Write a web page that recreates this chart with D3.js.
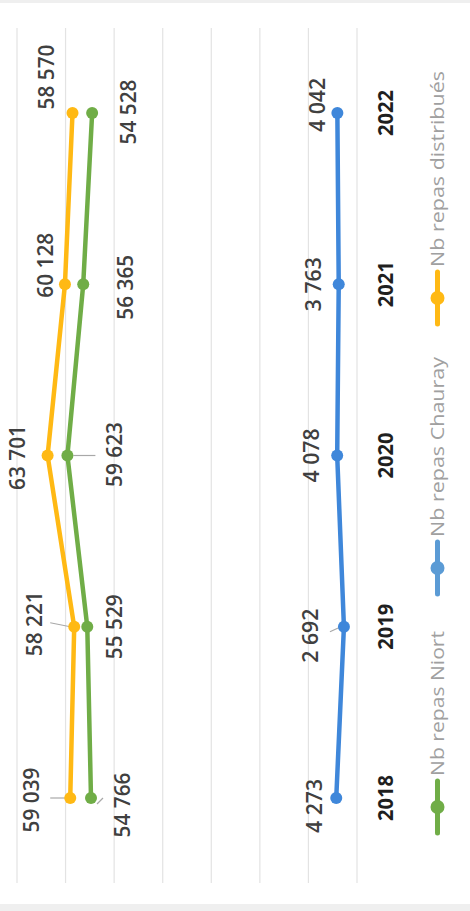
<!DOCTYPE html>
<html>
<head>
<meta charset="utf-8">
<script src="https://cdn.jsdelivr.net/npm/d3@7/dist/d3.min.js"></script>
<style>
  html, body { margin: 0; padding: 0; background: #efefef; }
  svg { display: block; }
  text { font-family: "Open Sans", "DejaVu Sans", sans-serif; }
</style>
</head>
<body>
<svg id="chart" width="470" height="911"></svg>
<script>
// ---- Data ----
const years = ["2018", "2019", "2020", "2021", "2022"];
const repasDistribues = [59039, 58221, 63701, 60128, 58570];
const repasNiort = [54766, 55529, 59623, 56365, 54528];
const repasChauray = [4273, 2692, 4078, 3763, 4042];
const seriesNames = ["Nb repas Niort", "Nb repas Chauray", "Nb repas distribués"];
const gridTicks = [0, 10000, 20000, 30000, 40000, 50000, 60000, 70000];

// ---- Layout (chart is rotated: values run right-to-left, years bottom-to-top) ----
const W = 470, H = 911;
const svg = d3.select("#chart");

svg.append("rect").attr("x", 0).attr("y", 3).attr("width", W).attr("height", 901).attr("fill", "#ffffff");

const x = d3.scaleLinear().domain([0, 70000]).range([357, 17]);
const y = d3.scalePoint().domain(years).range([798, 113]);

const fmt = v => d3.format(",")(v).replace(/,/g, " ");

// gridlines
svg.append("g").selectAll("line").data(gridTicks).join("line")
  .attr("x1", d => x(d)).attr("x2", d => x(d))
  .attr("y1", 28).attr("y2", 883)
  .attr("stroke", "#e3e3e3").attr("stroke-width", 1.2);

const colors = { niort: "#70AD47", chauray: "#3F87DA", distrib: "#FFB914" };

// label offsets relative to the point (dx, dy) to the label centre
const labelNudge = {
  distrib: [[-39, 2], [-40, -3], [-30, 2], [-20, -19], [-26, -36]],
  niort:   [[31, 7], [27, 0], [47, -1], [42, 3], [36, -1]],
  chauray: [[-22, 8], [-34, 9], [-26, 0], [-26, 0], [-20, -8]]
};
// leader lines: [seriesKey, index, from dx, to dx, dy]
const leaders = [
  ["distrib", 0, -20, -4, 0],
  ["distrib", 1, -24, -4, -4],
  ["niort", 0, 6, 12, 6],
  ["niort", 2, 6, 28, 0],
  ["chauray", 1, -14, -3, 5]
];

const series = [
  { key: "distrib", values: repasDistribues, color: colors.distrib },
  { key: "niort", values: repasNiort, color: colors.niort },
  { key: "chauray", values: repasChauray, color: colors.chauray }
];

const line = d3.line().x(d => x(d.v)).y(d => y(d.year));

// leader lines (under the series)
const lg = svg.append("g");
leaders.forEach(([k, i, a, b, dy]) => {
  const s = series.find(s => s.key === k);
  const px = x(s.values[i]), py = y(years[i]);
  lg.append("line")
    .attr("x1", px + a).attr("x2", px + b)
    .attr("y1", py + dy).attr("y2", py)
    .attr("stroke", "#a8a8a8").attr("stroke-width", 1.2);
});

series.forEach(s => {
  const pts = s.values.map((v, i) => ({ v, year: years[i] }));
  const g = svg.append("g");
  g.append("path").datum(pts)
    .attr("d", line)
    .attr("fill", "none")
    .attr("stroke", s.color)
    .attr("stroke-width", 4.5)
    .attr("stroke-linejoin", "round");
  g.selectAll("circle").data(pts).join("circle")
    .attr("cx", d => x(d.v)).attr("cy", d => y(d.year))
    .attr("r", 6)
    .attr("fill", s.color);
});

// data labels (rotated -90)
const fs = 22, cap = 0.714 * fs;
series.forEach(s => {
  svg.append("g").selectAll("text").data(s.values).join("text")
    .attr("transform", (v, i) => {
      const cx = x(v) + labelNudge[s.key][i][0];
      const cy = y(years[i]) + labelNudge[s.key][i][1];
      return `translate(${cx + cap / 2},${cy}) rotate(-90)`;
    })
    .attr("text-anchor", "middle")
    .attr("font-size", fs)
    .attr("font-weight", 600)
    .attr("fill", "#404040")
    .attr("textLength", v => fmt(v).length * 10.8)
    .attr("lengthAdjust", "spacingAndGlyphs")
    .text(v => fmt(v));
});

// year axis labels
const yfs = 21;
svg.append("g").selectAll("text").data(years).join("text")
  .attr("transform", d => `translate(${385.5 + 0.714 * yfs / 2},${y(d)}) rotate(-90)`)
  .attr("text-anchor", "middle")
  .attr("font-size", yfs)
  .attr("font-weight", "bold")
  .attr("fill", "#1f1f1f")
  .attr("textLength", 46)
  .attr("lengthAdjust", "spacingAndGlyphs")
  .text(d => d);

// legend
const legendItems = [
  { name: seriesNames[0], color: colors.niort, cy: 807, len: 145 },
  { name: seriesNames[1], color: "#5B9BD5", cy: 568, len: 180 },
  { name: seriesNames[2], color: colors.distrib, cy: 298, len: 196 }
];
const leg = svg.append("g");
legendItems.forEach(it => {
  leg.append("line")
    .attr("x1", 437.5).attr("x2", 437.5)
    .attr("y1", it.cy - 26).attr("y2", it.cy + 26)
    .attr("stroke", it.color).attr("stroke-width", 5).attr("stroke-linecap", "round");
  leg.append("circle").attr("cx", 437.5).attr("cy", it.cy).attr("r", 7).attr("fill", it.color);
  leg.append("text")
    .attr("transform", `translate(444,${it.cy - 31}) rotate(-90)`)
    .attr("text-anchor", "start")
    .attr("font-size", 18)
    .attr("fill", "#a0a0a0")
    .attr("textLength", it.len)
    .attr("lengthAdjust", "spacingAndGlyphs")
    .text(it.name);
});
</script>
</body>
</html>
